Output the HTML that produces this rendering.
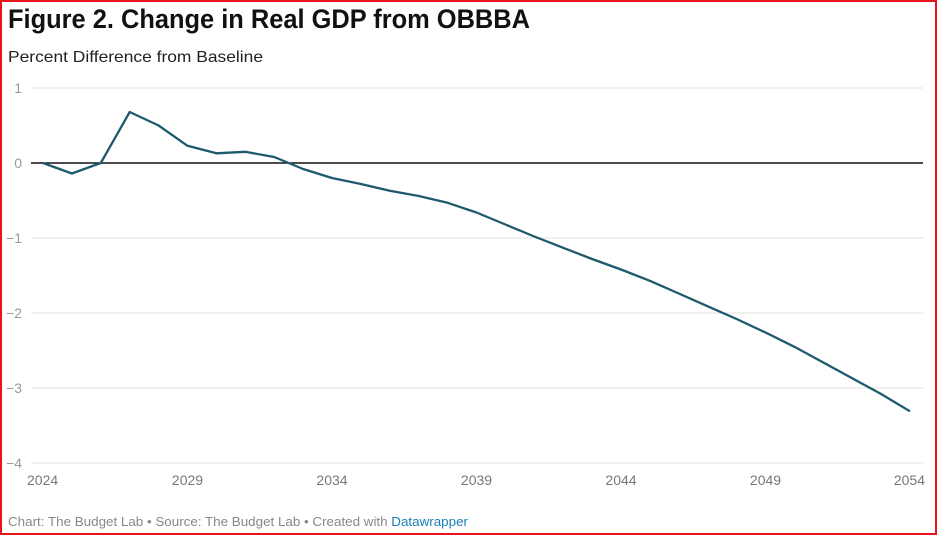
<!DOCTYPE html>
<html><head><meta charset="utf-8"><style>
html,body{margin:0;padding:0;background:#fff;}
svg{display:block;font-family:"Liberation Sans",sans-serif;}
</style></head><body>
<svg width="937" height="535" viewBox="0 0 937 535">
<rect x="1" y="1" width="935" height="533" fill="#fff" stroke="#e8141b" stroke-width="2"/>
<text x="8" y="28" font-size="27" font-weight="bold" fill="#111" textLength="522" lengthAdjust="spacingAndGlyphs">Figure 2. Change in Real GDP from OBBBA</text>
<text x="8" y="62" font-size="16" fill="#222" textLength="255" lengthAdjust="spacingAndGlyphs">Percent Difference from Baseline</text>
<g id="grid"></g>
<g id="yticks"></g>
<g id="xticks"></g>
<path id="line" fill="none" stroke="#1d5a6e" stroke-width="2.3" stroke-linejoin="round"/>
<text x="8" y="526" font-size="13" fill="#888" textLength="460" lengthAdjust="spacingAndGlyphs">Chart: The Budget Lab • Source: The Budget Lab • Created with <tspan fill="#1a7fb5">Datawrapper</tspan></text>
</svg>
<script>
const years=[2024,2025,2026,2027,2028,2029,2030,2031,2032,2033,2034,2035,2036,2037,2038,2039,2040,2041,2042,2043,2044,2045,2046,2047,2048,2049,2050,2051,2052,2053,2054];
const values=[0,-0.14,0,0.68,0.5,0.23,0.13,0.15,0.08,-0.08,-0.2,-0.28,-0.37,-0.44,-0.53,-0.66,-0.82,-0.98,-1.13,-1.28,-1.42,-1.57,-1.74,-1.91,-2.08,-2.26,-2.45,-2.66,-2.87,-3.08,-3.31];
const yTicks=[1,0,-1,-2,-3,-4];
const yTickLabels=["1","0","\u22121","\u22122","\u22123","\u22124"];
const xTicks=[2024,2029,2034,2039,2044,2049,2054];
const NS="http://www.w3.org/2000/svg";
const x=v=>43+(v-2024)*(910-43)/30;
const y=v=>163-v*75;
const grid=document.getElementById('grid'),yt=document.getElementById('yticks'),xt=document.getElementById('xticks');
yTicks.forEach((t,i)=>{
  const l=document.createElementNS(NS,'line');
  
  
  l.setAttribute('x1',31);l.setAttribute('x2',923);l.setAttribute('y1',y(t));l.setAttribute('y2',y(t));
  l.setAttribute('stroke',t===0?'#111':'#e2e2e2');l.setAttribute('stroke-width',t===0?1.5:1);
  grid.appendChild(l);
  const tx=document.createElementNS(NS,'text');
  
  
  tx.setAttribute('x',22);tx.setAttribute('y',y(t)+5);tx.setAttribute('text-anchor','end');
  tx.setAttribute('font-size','14');tx.setAttribute('fill','#999');
  tx.textContent=yTickLabels[i];yt.appendChild(tx);
});
xTicks.forEach((t,i)=>{
  const tx=document.createElementNS(NS,'text');
  
  
  let anchor=i===0?'start':(i===xTicks.length-1?'end':'middle');
  let px=i===0?27:(i===xTicks.length-1?925:x(t));
  tx.setAttribute('x',px);tx.setAttribute('y',485);tx.setAttribute('text-anchor',anchor);
  tx.setAttribute('font-size','14');tx.setAttribute('fill','#777');
  tx.textContent=t;xt.appendChild(tx);
});
document.getElementById('line').setAttribute('d',years.map((yr,i)=>(i?'L':'M')+x(yr).toFixed(1)+','+y(values[i]).toFixed(1)).join(' '));
</script>
</body></html>
